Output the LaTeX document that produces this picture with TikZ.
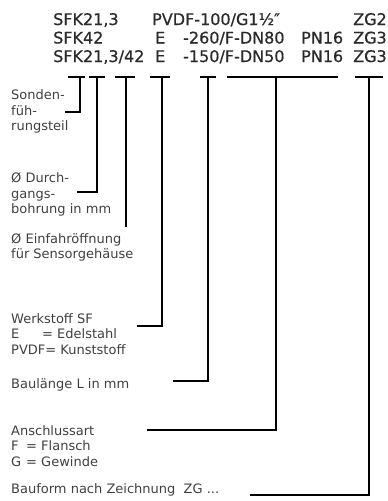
\documentclass[tikz,border=0pt]{standalone}
\usepackage{fontspec}
\setmainfont{DejaVu Sans}
\newfontfamily\hdrfont[FakeBold=0.6]{DejaVu Sans}
\definecolor{hdrcol}{HTML}{2A2A2A}
\definecolor{lblcol}{HTML}{404040}
\tikzset{
  hdr/.style={anchor=base west, inner sep=0pt, text=hdrcol, font=\hdrfont\fontsize{16}{16}\selectfont},
  lbl/.style={anchor=north west, inner sep=0pt, text=lblcol, align=left, font=\fontsize{13}{15.5}\selectfont},
  lead/.style={draw=black, line width=1.3pt}
}
\begin{document}
\begin{tikzpicture}[x=1pt,y=-1pt]
\useasboundingbox (0,0) rectangle (388,501);
% header rows
\node[hdr] (r1a) at (53,25) {SFK21,3};
\node[hdr] (r1b) at (152,25) {PVDF-100/G1½″};
\node[hdr] (r1e) at (353,25) {ZG2};
\node[hdr] (r2a) at (53,43.5) {SFK42};
\node[hdr] (r2b) at (155,43.5) {E};
\node[hdr] (r2c) at (183,43.5) {-260/F-DN80};
\node[hdr] (r2d) at (301,43.5) {PN16};
\node[hdr] (r2e) at (353,43.5) {ZG3};
\node[hdr] (r3a) at (53,62) {SFK21,3/42};
\node[hdr] (r3b) at (155,62) {E};
\node[hdr] (r3c) at (183,62) {-150/F-DN50};
\node[hdr] (r3d) at (301,62) {PN16};
\node[hdr] (r3e) at (353,62) {ZG3};
% labels
\node[lbl] (l1) at (11,89.5) {Sonden-\\füh-\\rungsteil};
\node[lbl] (l2) at (11,172.5) {Ø Durch-\\gangs-\\bohrung in mm};
\node[lbl] (l3) at (11,233) {Ø Einfahröffnung\\für Sensorgehäuse};
\node[lbl] (l4) at (11,313) {Werkstoff SF\\\makebox[31pt][l]{E}= Edelstahl\\PVDF= Kunststoff};
\node[lbl] (l5) at (11,378) {Baulänge L in mm};
\node[lbl] (l6) at (11,425) {Anschlussart\\\makebox[15pt][l]{F}= Flansch\\\makebox[15pt][l]{G}= Gewinde};
\node[lbl] (l7) at (11,483) {Bauform nach Zeichnung\ \ ZG ...};
% leader lines
\draw[lead] (68,77) -- (85,77);
\draw[lead] (80,77) -- (80,112) -- (65,112);
\draw[lead] (89,77) -- (105,77);
\draw[lead] (97,77) -- (97,192) -- (77,192);
\draw[lead] (115,77) -- (135,77);
\draw[lead] (126,77) -- (126,227);
\draw[lead] (150,77) -- (170,77);
\draw[lead] (162,77) -- (162,326) -- (137,326);
\draw[lead] (200,77) -- (216,77);
\draw[lead] (208,77) -- (208,381) -- (173,381);
\draw[lead] (227,77) -- (338,77);
\draw[lead] (276,77) -- (276,430) -- (147,430);
\draw[lead] (355,77) -- (383,77);
\draw[lead] (369,77) -- (369,495) -- (250,495);
\end{tikzpicture}
\end{document}
